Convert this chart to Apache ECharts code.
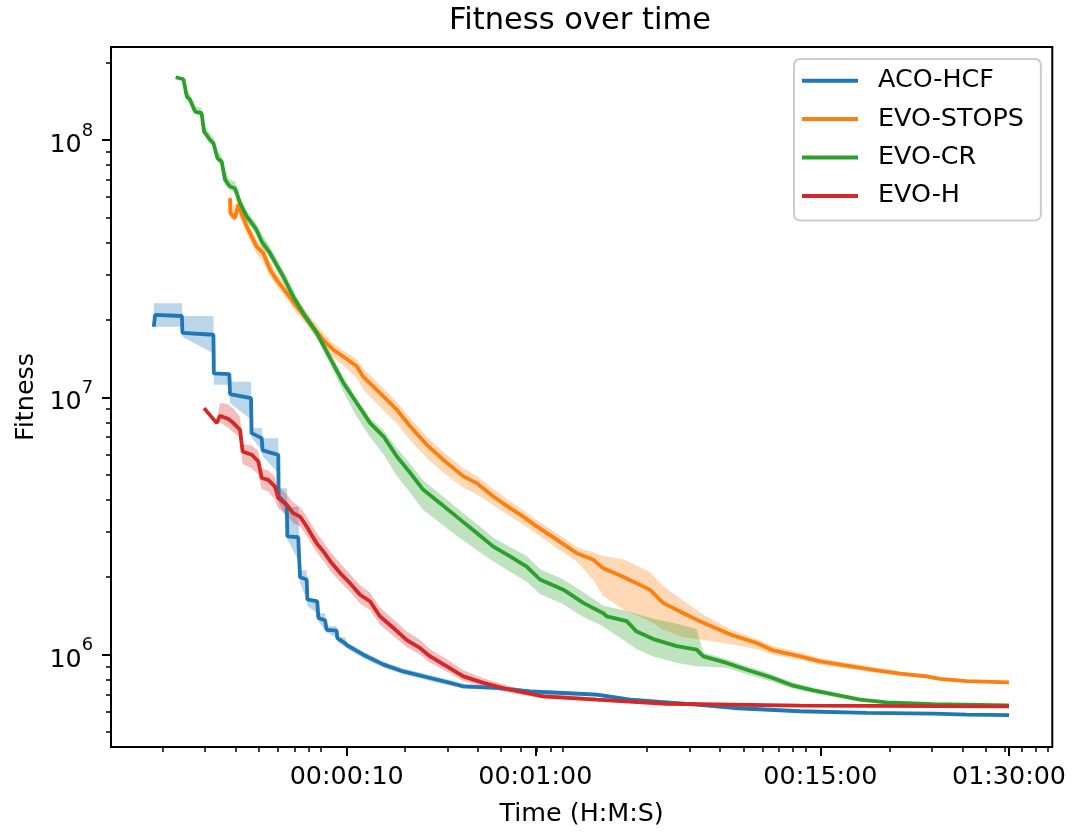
<!DOCTYPE html>
<html>
<head>
<meta charset="utf-8">
<title>Fitness over time</title>
<script src="https://cdn.jsdelivr.net/npm/echarts@6.0.0/dist/echarts.min.js"></script>
<style>
  html, body { margin: 0; padding: 0; background: #fff; }
  #chart { width: 1076px; height: 832px; }
</style>
</head>
<body>
<div id="chart"></div>
<script>
var FONT = 'DejaVu Sans';
var NAMES = ['ACO-HCF', 'EVO-STOPS', 'EVO-CR', 'EVO-H'];
var COLORS = ['#1f77b4', '#ff7f0e', '#2ca02c', '#d62728'];

// axis ticks (time in seconds, fitness raw)
var TIME_TICKS = [10, 60, 900, 5400];
var MINOR_MANT = [2, 3, 4, 5, 6, 7, 8, 9];
var MINOR_DECADES = [1, 10, 100, 1000];
var MINOR_SHIFT = 0.868; // minor ticks of the original sit a bit left of the labelled ones
var FIT_TICKS = [1e6, 1e7, 1e8];
var FIT_MINOR = [5e5, 6e5, 7e5, 8e5, 9e5, 2e6, 3e6, 4e6, 5e6, 6e6, 7e6, 8e6, 9e6,
                 2e7, 3e7, 4e7, 5e7, 6e7, 7e7, 8e7, 9e7, 2e8];

// ACO-HCF
var aco_t = [1.60, 1.62, 2.09, 2.10, 2.82, 2.83, 3.28, 3.30, 4.03, 4.05, 4.46, 4.50, 5.22, 5.24, 5.66, 5.69,
             6.31, 6.42, 6.84, 6.88, 7.56, 7.64, 8.14, 8.27, 9.09, 9.15, 9.84, 10.0, 11.7, 14.2, 17.1, 22.1,
             26.7, 30.3, 41.6, 57.0, 78.3, 107.5, 147.5, 278, 393.5, 742, 1397, 2630, 3613, 5400];
var aco_mean = [1.88e7, 2.09e7, 2.07e7, 1.78e7, 1.75e7, 1.24e7, 1.23e7, 1.03e7, 9.93e6, 7.26e6, 6.94e6, 6.22e6,
                5.98e6, 4.12e6, 3.82e6, 2.88e6, 2.86e6, 2.00e6, 1.96e6, 1.64e6, 1.61e6, 1.39e6, 1.36e6, 1.25e6,
                1.24e6, 1.16e6, 1.11e6, 1.09e6, 1.00e6, 9.15e5, 8.61e5, 8.12e5, 7.77e5, 7.53e5, 7.43e5, 7.20e5,
                7.10e5, 7.00e5, 6.69e5, 6.40e5, 6.21e5, 6.03e5, 5.94e5, 5.90e5, 5.85e5, 5.83e5];
var aco_hi = [2.32e7, 2.32e7, 2.32e7, 2.07e7, 2.07e7, 1.24e7, 1.24e7, 1.15e7, 1.15e7, 7.6e6, 7.6e6, 6.94e6,
              6.94e6, 4.43e6, 4.43e6, 3.75e6, 3.75e6, 2.13e6, 2.13e6, 1.64e6, 1.64e6, 1.45e6, 1.45e6, 1.29e6,
              1.29e6, 1.17e6, 1.17e6, 1.12e6, 1.03e6, 9.4e5, 8.85e5, 8.35e5, 7.95e5, 7.7e5, 7.55e5, 7.32e5,
              7.22e5, 7.12e5, 6.8e5, 6.5e5, 6.3e5, 6.1e5, 6.0e5, 5.96e5, 5.91e5, 5.89e5];
var aco_lo = [1.88e7, 1.88e7, 1.88e7, 1.72e7, 1.48e7, 1.12e7, 1.12e7, 9.5e6, 8.2e6, 7.0e6, 6.2e6, 5.9e6,
              5.08e6, 3.9e6, 3.37e6, 2.8e6, 2.33e6, 1.9e6, 1.64e6, 1.55e6, 1.45e6, 1.35e6, 1.21e6, 1.22e6,
              1.16e6, 1.12e6, 1.06e6, 1.06e6, 9.7e5, 8.9e5, 8.4e5, 7.9e5, 7.6e5, 7.4e5, 7.3e5, 7.08e5,
              6.98e5, 6.88e5, 6.58e5, 6.3e5, 6.12e5, 5.96e5, 5.88e5, 5.84e5, 5.8e5, 5.78e5];

// EVO-STOPS
var stops_t = [3.30, 3.31, 3.46, 3.57, 3.66, 3.87, 4.25, 4.53, 4.83, 5.14, 5.66, 6.22, 7.06, 8.01, 8.81, 9.68,
               11.0, 11.7, 13.7, 16.1, 18.3, 21.4, 25.0, 30.3, 34.4, 40.3, 47.2, 53.5, 60.8, 73.5, 88.9, 104,
               114, 138, 178, 202, 245, 296, 381, 491, 575, 742, 897, 1155, 1487, 1917, 2470, 2804, 3613, 5400];
var stops_mean = [5.94e7, 5.19e7, 4.97e7, 5.6e7, 5.25e7, 4.61e7, 3.85e7, 3.63e7, 3.13e7, 2.86e7, 2.54e7, 2.25e7,
                  1.94e7, 1.67e7, 1.53e7, 1.44e7, 1.32e7, 1.20e7, 1.04e7, 8.95e6, 7.70e6, 6.54e6, 5.72e6, 4.93e6,
                  4.64e6, 4.12e6, 3.71e6, 3.44e6, 3.15e6, 2.80e6, 2.48e6, 2.34e6, 2.17e6, 2.01e6, 1.79e6, 1.59e6,
                  1.45e6, 1.33e6, 1.20e6, 1.11e6, 1.039e6, 9.85e5, 9.42e5, 9.07e5, 8.74e5, 8.44e5, 8.24e5, 8.05e5,
                  7.90e5, 7.81e5];
var stops_hi = [6.2e7, 6.1e7, 5.4e7, 6.6e7, 5.6e7, 4.9e7, 4.1e7, 3.85e7, 3.35e7, 3.05e7, 2.7e7, 2.4e7,
                2.06e7, 1.78e7, 1.62e7, 1.52e7, 1.41e7, 1.29e7, 1.12e7, 9.6e6, 8.3e6, 7.05e6, 6.15e6, 5.3e6,
                4.95e6, 4.4e6, 3.95e6, 3.65e6, 3.33e6, 2.97e6, 2.62e6, 2.5e6, 2.42e6, 2.35e6, 2.1e6, 1.85e6,
                1.62e6, 1.43e6, 1.26e6, 1.15e6, 1.08e6, 1.02e6, 9.7e5, 9.3e5, 8.95e5, 8.6e5, 8.38e5, 8.18e5,
                8.0e5, 7.9e5];
var stops_lo = [5.7e7, 5.0e7, 4.8e7, 5.2e7, 4.9e7, 4.3e7, 3.6e7, 3.35e7, 2.95e7, 2.7e7, 2.4e7, 2.12e7,
                1.84e7, 1.57e7, 1.42e7, 1.33e7, 1.19e7, 1.07e7, 9.2e6, 7.9e6, 6.8e6, 5.8e6, 5.1e6, 4.45e6,
                4.2e6, 3.8e6, 3.45e6, 3.2e6, 2.95e6, 2.6e6, 2.3e6, 1.95e6, 1.7e6, 1.5e6, 1.35e6, 1.25e6,
                1.17e6, 1.14e6, 1.10e6, 1.05e6, 1.0e6, 9.55e5, 9.15e5, 8.85e5, 8.55e5, 8.28e5, 8.1e5, 7.93e5,
                7.8e5, 7.72e5];

// EVO-CR
var cr_t = [1.97, 2.12, 2.19, 2.26, 2.37, 2.52, 2.58, 2.73, 2.82, 2.93, 3.05, 3.15, 3.30, 3.46, 3.63, 3.87,
            4.06, 4.25, 4.46, 4.83, 5.14, 5.48, 6.02, 6.62, 7.52, 8.54, 9.68, 11.0, 12.5, 14.2, 16.1, 18.3,
            20.7, 24.3, 28.4, 34.4, 40.3, 47.2, 55.3, 62.7, 78.3, 94.6, 114.4, 118.2, 142.9, 157.2, 184.1, 229.8,
            277.9, 295.9, 369.6, 446.9, 557.6, 695.8, 841.3, 1084, 1311, 1690, 2630, 5400];
var cr_mean = [1.752e8, 1.721e8, 1.473e8, 1.430e8, 1.288e8, 1.270e8, 1.077e8, 1.0e8, 9.71e7, 8.49e7, 8.24e7, 6.99e7,
               6.59e7, 6.49e7, 5.68e7, 5.04e7, 4.75e7, 4.47e7, 4.03e7, 3.63e7, 3.27e7, 2.94e7, 2.46e7, 2.12e7,
               1.78e7, 1.42e7, 1.14e7, 9.50e6, 7.94e6, 7.04e6, 5.89e6, 5.08e6, 4.37e6, 3.88e6, 3.44e6, 2.97e6,
               2.63e6, 2.41e6, 2.20e6, 1.96e6, 1.79e6, 1.59e6, 1.45e6, 1.41e6, 1.35e6, 1.23e6, 1.15e6, 1.08e6,
               1.046e6, 9.85e5, 9.29e5, 8.74e5, 8.19e5, 7.58e5, 7.27e5, 6.93e5, 6.69e5, 6.53e5, 6.43e5, 6.36e5];
var cr_hi = [1.752e8, 1.75e8, 1.55e8, 1.50e8, 1.35e8, 1.33e8, 1.14e8, 1.06e8, 1.02e8, 9.0e7, 8.7e7, 7.5e7,
             7.0e7, 6.9e7, 6.0e7, 5.3e7, 5.0e7, 4.7e7, 4.3e7, 3.85e7, 3.45e7, 3.1e7, 2.6e7, 2.22e7,
             1.86e7, 1.50e7, 1.20e7, 9.9e6, 8.3e6, 7.45e6, 6.35e6, 5.5e6, 4.75e6, 4.2e6, 3.72e6, 3.22e6,
             2.85e6, 2.62e6, 2.42e6, 2.15e6, 1.96e6, 1.75e6, 1.55e6, 1.54e6, 1.48e6, 1.44e6, 1.38e6, 1.32e6,
             1.26e6, 1.02e6, 9.6e5, 9.05e5, 8.45e5, 7.8e5, 7.45e5, 7.05e5, 6.78e5, 6.6e5, 6.48e5, 6.4e5];
var cr_lo = [1.752e8, 1.70e8, 1.44e8, 1.40e8, 1.26e8, 1.24e8, 1.05e8, 9.7e7, 9.4e7, 8.2e7, 8.0e7, 6.7e7,
             6.4e7, 6.2e7, 5.4e7, 4.8e7, 4.55e7, 4.25e7, 3.85e7, 3.45e7, 3.1e7, 2.8e7, 2.36e7, 2.03e7,
             1.70e7, 1.35e7, 1.05e7, 8.4e6, 7.0e6, 6.0e6, 4.95e6, 4.25e6, 3.65e6, 3.25e6, 2.9e6, 2.55e6,
             2.3e6, 2.1e6, 1.92e6, 1.72e6, 1.57e6, 1.4e6, 1.29e6, 1.26e6, 1.12e6, 1.05e6, 9.85e5, 9.3e5,
             9.0e5, 9.0e5, 8.9e5, 8.4e5, 7.9e5, 7.38e5, 7.1e5, 6.8e5, 6.6e5, 6.47e5, 6.38e5, 6.32e5];

// EVO-H
var h_t = [2.58, 2.91, 3.00, 3.25, 3.41, 3.63, 3.72, 4.06, 4.32, 4.46, 4.75, 5.06, 5.22, 5.66, 6.02, 6.42,
           6.84, 7.17, 7.52, 8.01, 8.67, 9.38, 10.3, 11.35, 12.5, 13.7, 15.6, 17.7, 20.1, 22.1, 25.9, 30.3,
           36.6, 47.2, 64.7, 107.5, 209, 742, 5400];
var h_mean = [9.08e6, 7.94e6, 8.48e6, 8.23e6, 7.94e6, 7.48e6, 6.16e6, 5.98e6, 5.63e6, 4.86e6, 4.78e6, 4.50e6,
              4.06e6, 3.82e6, 3.55e6, 3.44e6, 3.15e6, 2.92e6, 2.71e6, 2.52e6, 2.27e6, 2.08e6, 1.90e6, 1.71e6,
              1.61e6, 1.41e6, 1.27e6, 1.14e6, 1.06e6, 9.85e5, 9.01e5, 8.24e5, 7.77e5, 7.31e5, 6.89e5, 6.69e5,
              6.45e5, 6.34e5, 6.30e5];
var h_hi = [9.08e6, 8.1e6, 9.5e6, 9.4e6, 9.0e6, 8.4e6, 6.6e6, 6.5e6, 6.2e6, 5.3e6, 5.2e6, 4.9e6,
            4.5e6, 4.2e6, 3.9e6, 3.75e6, 3.45e6, 3.2e6, 2.97e6, 2.75e6, 2.48e6, 2.27e6, 2.06e6, 1.86e6,
            1.74e6, 1.53e6, 1.37e6, 1.23e6, 1.14e6, 1.05e6, 9.6e5, 8.7e5, 8.1e5, 7.55e5, 7.05e5, 6.8e5,
            6.52e5, 6.4e5, 6.35e5];
var h_lo = [9.08e6, 7.9e6, 8.0e6, 7.6e6, 7.3e6, 7.0e6, 5.5e6, 5.3e6, 5.0e6, 4.4e6, 4.3e6, 4.0e6,
            3.7e6, 3.5e6, 3.25e6, 3.15e6, 2.9e6, 2.68e6, 2.5e6, 2.32e6, 2.08e6, 1.92e6, 1.76e6, 1.58e6,
            1.49e6, 1.31e6, 1.18e6, 1.07e6, 1.0e6, 9.3e5, 8.6e5, 7.9e5, 7.5e5, 7.12e5, 6.76e5, 6.6e5,
            6.38e5, 6.29e5, 6.25e5];

var RUNS = [
  [aco_t, aco_mean, aco_lo, aco_hi],
  [stops_t, stops_mean, stops_lo, stops_hi],
  [cr_t, cr_mean, cr_lo, cr_hi],
  [h_t, h_mean, h_lo, h_hi]
];

// both axes are log10, so the plot works on log values
var X_MIN = 0.0276, X_MAX = 3.911;
var Y_MIN = 5.6415, Y_MAX = 8.361;

function lg(v) { return Math.log10(v); }
function pairs(t, v) {
  return t.map(function (x, i) { return [lg(x), lg(v[i])]; });
}
// band rows are [y, x] so the stack runs on the fitness column (value/value axes stack on column 0)
function lowRows(t, lo) {
  return t.map(function (x, i) { return [lg(lo[i]), lg(x)]; });
}
function spreadRows(t, lo, hi) {
  return t.map(function (x, i) { return [lg(hi[i]) - lg(lo[i]), lg(x)]; });
}
function pad2(n) { return (n < 10 ? '0' : '') + n; }
function hms(v) {
  var s = Math.round(Math.pow(10, v));
  return pad2(Math.floor(s / 3600)) + ':' + pad2(Math.floor((s % 3600) / 60)) + ':' + pad2(s % 60);
}

var minorX = [];
MINOR_DECADES.forEach(function (d) {
  MINOR_MANT.forEach(function (m) { minorX.push(lg(m * d * MINOR_SHIFT)); });
});

var series = [];
RUNS.forEach(function (r, k) {
  series.push({
    name: NAMES[k], type: 'line', data: pairs(r[0], r[1]),
    symbol: 'none', lineStyle: { width: 3.8, color: COLORS[k] }, itemStyle: { color: COLORS[k] }
  });
  series.push({
    name: NAMES[k] + ' lo', type: 'line', stack: 'band' + k, data: lowRows(r[0], r[2]),
    encode: { x: 1, y: 0 },
    symbol: 'none', lineStyle: { opacity: 0 }, itemStyle: { color: COLORS[k] }, silent: true
  });
  series.push({
    name: NAMES[k] + ' band', type: 'line', stack: 'band' + k, data: spreadRows(r[0], r[2], r[3]),
    encode: { x: 1, y: 0 },
    symbol: 'none', lineStyle: { opacity: 0 }, itemStyle: { color: COLORS[k] }, silent: true,
    areaStyle: { color: COLORS[k], opacity: 0.3 }
  });
});

var tickLine = { color: '#000', width: 2 };
var txt = { fontFamily: FONT, fontSize: 25.4, color: '#000' };

var chart = echarts.init(document.getElementById('chart'));
chart.setOption({
  animation: false,
  backgroundColor: '#fff',
  title: {
    text: 'Fitness over time', left: 449, top: 6, padding: 0,
    textStyle: { fontFamily: FONT, fontSize: 30.5, fontWeight: 'normal', color: '#000' }
  },
  legend: {
    orient: 'vertical', left: 794, top: 59,
    data: NAMES.map(function (n) { return { name: n, icon: 'rect' }; }),
    itemWidth: 56, itemHeight: 4, itemGap: 13,
    padding: [9, 17, 12, 8],
    backgroundColor: 'rgba(255,255,255,0.8)', borderColor: '#cccccc', borderWidth: 2, borderRadius: 6,
    selectedMode: false,
    textStyle: { fontFamily: FONT, fontSize: 25.4, color: '#000', lineHeight: 25.4, padding: [0, 0, 0, 15] }
  },
  grid: {
    left: 111, right: 23.7, top: 47, bottom: 84.7,
    show: true, borderColor: '#000', borderWidth: 2
  },
  xAxis: [{
    type: 'value', min: X_MIN, max: X_MAX, position: 'bottom',
    axisLine: { show: false }, splitLine: { show: false },
    axisTick: { show: true, customValues: TIME_TICKS.map(lg), length: 9, lineStyle: tickLine },
    axisLabel: Object.assign({ customValues: TIME_TICKS.map(lg), formatter: hms, margin: 17.8 }, txt),
    name: 'Time (H:M:S)', nameLocation: 'middle', nameGap: 55, nameTextStyle: txt
  }, {
    type: 'value', min: X_MIN, max: X_MAX, position: 'bottom', offset: 0,
    axisLine: { show: false }, splitLine: { show: false }, axisLabel: { show: false },
    axisTick: { show: true, customValues: minorX, length: 5, lineStyle: { color: '#000', width: 1.5 } }
  }],
  yAxis: [{
    type: 'value', min: Y_MIN, max: Y_MAX, position: 'left',
    axisLine: { show: false }, splitLine: { show: false },
    axisTick: { show: true, customValues: FIT_TICKS.map(lg), length: 9, lineStyle: tickLine },
    axisLabel: {
      customValues: FIT_TICKS.map(lg), margin: 17.8,
      formatter: function (v) { return '{b|10}{s|' + Math.round(v) + '}'; },
      rich: {
        b: { fontFamily: FONT, fontSize: 25.4, color: '#000', lineHeight: 36, verticalAlign: 'bottom' },
        s: { fontFamily: FONT, fontSize: 18, color: '#000', lineHeight: 18, verticalAlign: 'top' }
      }
    },
    name: 'Fitness', nameLocation: 'middle', nameGap: 68, nameTextStyle: txt
  }, {
    type: 'value', min: Y_MIN, max: Y_MAX, position: 'left', offset: 0,
    axisLine: { show: false }, splitLine: { show: false }, axisLabel: { show: false },
    axisTick: { show: true, customValues: FIT_MINOR.map(lg), length: 5, lineStyle: { color: '#000', width: 1.5 } }
  }],
  series: series
});
</script>
</body>
</html>
